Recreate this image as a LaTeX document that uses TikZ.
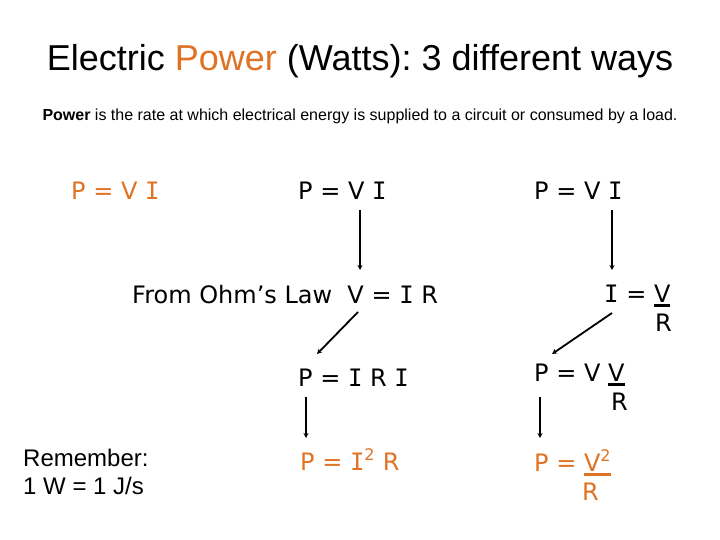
\documentclass[tikz,border=0pt]{standalone}
\usepackage{fontspec}
\setmainfont{Liberation Sans}
\newfontfamily\eqfont{DejaVu Sans}
\newfontfamily\eqmono{DejaVu Sans Mono}
\usetikzlibrary{arrows.meta}
\definecolor{pwr}{RGB}{224,114,36}
\newcommand\sI{{\eqmono I}}
\newcommand\ubar[1]{\setbox0\hbox{#1}\rlap{\rule[-4.5pt]{\wd0}{3pt}}\box0}
\frenchspacing
\tikzset{
  eq/.style={font=\eqfont\fontsize{24}{28}\selectfont, inner sep=0pt, anchor=base west},
  txt/.style={inner sep=0pt},
  arr/.style={-{Stealth[length=5pt,width=5pt]}, line width=1.8pt, black}
}
\begin{document}
\begin{tikzpicture}[x=1pt,y=-1pt]
\useasboundingbox (0,0) rectangle (720,540);
% title
\node[txt, anchor=base, font=\fontsize{36}{40}\selectfont] (title) at (360,71)
  {Electric \textcolor{pwr}{Power} (Watts): 3 different ways};
\node[txt, anchor=base, font=\fontsize{16}{19}\selectfont] (sub) at (360,121)
  {\textbf{Power} is the rate at which electrical energy is supplied to a circuit or consumed by a load.};
% column 1
\node[eq, text=pwr] (p1) at (71,200) {P = V \sI};
% column 2
\node[eq] (p2) at (298,200) {P = V \sI};
\node[eq] (ohm) at (132,303) {From Ohm’s Law\ \ V = \sI\ R};
\node[eq] (pirI) at (298,386) {P = \sI\ R \sI};
\node[eq, text=pwr] (pi2r) at (300,470) {P = \sI\textsuperscript{\fontsize{16}{18}\selectfont 2} R};
% column 3
\node[eq] (p3) at (534,200) {P = V \sI};
\node[eq] (ivr) at (604,302) {\sI\ = \ubar{V}};
\node[eq] (r1) at (655,331) {R};
\node[eq] (pvv) at (534,381) {P = V \ubar{V}};
\node[eq] (r2) at (611,410) {R};
\node[eq, text=pwr] (pv2) at (534,471) {P = {\color{pwr}\ubar{V\textsuperscript{\fontsize{16}{18}\selectfont 2}}}};
\node[eq, text=pwr] (r3) at (582,500) {R};
% remember
\node[txt, anchor=base west, font=\fontsize{24}{28}\selectfont] (rem1) at (23,466) {Remember:};
\node[txt, anchor=base west, font=\fontsize{24}{28}\selectfont] (rem2) at (23,494) {1 W = 1 J/s};
% arrow end points
\coordinate (a1s) at (360,210); \coordinate (a1e) at (360,270);
\coordinate (a2s) at (358,312); \coordinate (a2e) at (317,354);
\coordinate (a3s) at (306,397); \coordinate (a3e) at (306,438);
\coordinate (a4s) at (612,210); \coordinate (a4e) at (612,270);
\coordinate (a5s) at (612,313); \coordinate (a5e) at (552,354);
\coordinate (a6s) at (540,397); \coordinate (a6e) at (540,438);
\draw[arr] (a1s) -- (a1e);
\draw[arr] (a2s) -- (a2e);
\draw[arr] (a3s) -- (a3e);
\draw[arr] (a4s) -- (a4e);
\draw[arr] (a5s) -- (a5e);
\draw[arr] (a6s) -- (a6e);
\end{tikzpicture}
\end{document}
